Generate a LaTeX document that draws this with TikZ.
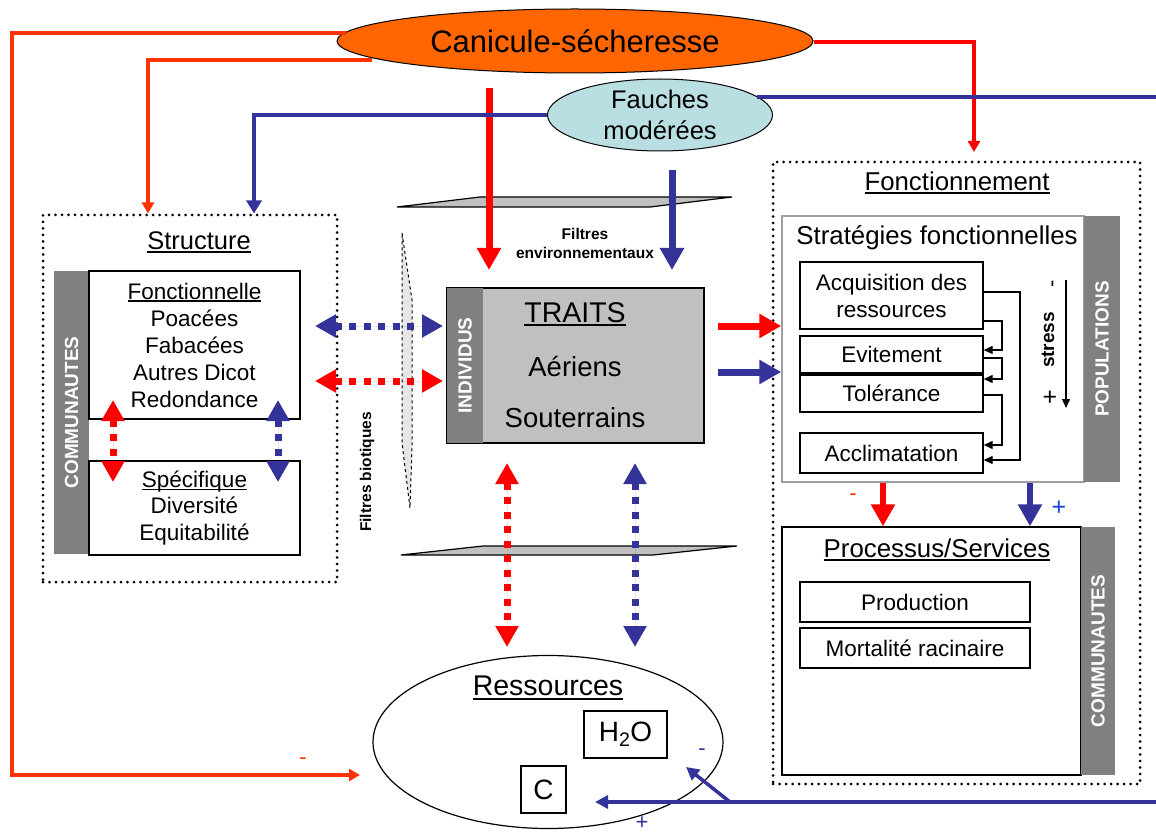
\documentclass[tikz,border=0pt]{standalone}
\usepackage{fontspec}
\setmainfont{Liberation Sans}
\usetikzlibrary{arrows.meta,shapes.geometric}
\definecolor{myred}{HTML}{FF0000}
\definecolor{ored}{HTML}{FF3300}
\definecolor{myblue}{HTML}{333399}
\definecolor{brblue}{HTML}{1A3FD6}
\definecolor{orangefill}{HTML}{FF6600}
\definecolor{cyanfill}{HTML}{B9DFE3}
\definecolor{bandgray}{HTML}{808080}
\definecolor{traitgray}{HTML}{C0C0C0}
\definecolor{lensgray}{HTML}{E6E6E6}
\newcommand{\fsz}[2]{\fontsize{#1}{#2}\selectfont}
\newcommand{\myul}[1]{\setbox0\hbox{#1}\rlap{\rule[-0.13em]{\wd0}{0.07em}}\box0}
\tikzset{
  dotbox/.style={draw, line width=3pt, dash pattern=on 0pt off 6.5pt, line cap=round, inner sep=0pt},
  band/.style={fill=bandgray, draw=none, text=white, font=\bfseries\fsz{19}{22}, rotate=90, inner sep=0pt},
  box/.style={draw, line width=1.4pt, inner sep=0pt, align=center},
  txt/.style={inner sep=0pt, align=center},
  thinred/.style={draw=ored, line width=3.5pt, -{Triangle[width=12pt,length=11pt]}},
  thinblue/.style={draw=myblue, line width=4pt, -{Triangle[width=15pt,length=13pt]}},
  thickred/.style={draw=myred, line width=7pt, -{Triangle[width=23pt,length=22pt]}},
  thickblue/.style={draw=myblue, line width=7pt, -{Triangle[width=23pt,length=22pt]}},
  dotarrow/.style={line width=7pt, dash pattern=on 7pt off 7.5pt, {Triangle[width=22pt,length=21pt]}-{Triangle[width=22pt,length=21pt]}},
  conn/.style={draw=black, line width=1.4pt, -{Triangle[width=8pt,length=9pt]}},
  plane/.style={draw=black, line width=1.2pt, fill=traitgray},
}
\begin{document}
\begin{tikzpicture}[x=1pt,y=-1pt]
\useasboundingbox[fill=white] (0,0) rectangle (1156,834);

% filter planes
\draw[plane] (397,207) -- (480,197) -- (732,197) -- (650,207) -- cycle;
\draw[plane] (401,555) -- (483,546) -- (737,546) -- (653,555) -- cycle;
% biotic filter lens
\draw[draw=black, line width=1pt, dashed, fill=lensgray] (402,233) -- (412,300) -- (412,447) -- (410,508) -- (402,443) -- cycle;

% top ellipses
\node[ellipse, draw=black, line width=1pt, fill=orangefill, minimum width=476pt, minimum height=64pt, inner sep=0pt, font=\fsz{31}{34}] (canicule) at (575,41) {Canicule-sécheresse};
\node[ellipse, draw=black, line width=1pt, fill=cyanfill, minimum width=225pt, minimum height=72pt, inner sep=0pt, align=center, font=\fsz{25.5}{31}] (fauches) at (660,115) {Fauches\\modérées};

% Structure
\node[dotbox, minimum width=294pt, minimum height=367pt] (structure) at (190,398.5) {};
\node[txt, font=\fsz{25.5}{30}] (structT) at (199,242) {\myul{Structure}};
\node[band, minimum width=283pt, minimum height=35pt] (commL) at (71.5,412.5) {COMMUNAUTES};
\node[box, minimum width=211pt, minimum height=148pt, font=\fsz{22.5}{27}] (fonctl) at (194.5,345) {\myul{Fonctionnelle}\\Poacées\\Fabacées\\Autres Dicot\\Redondance};
\node[box, minimum width=211pt, minimum height=94pt, font=\fsz{22.5}{26.5}] (specif) at (194.5,508) {\myul{Spécifique}\\Diversité\\Equitabilité};

% Traits
\node[draw=black, line width=1.2pt, fill=traitgray, minimum width=257pt, minimum height=155pt, inner sep=0pt] (traits) at (575.5,365.5) {};
\node[band, minimum width=155pt, minimum height=36pt] (indiv) at (465,365.5) {INDIVIDUS};
\node[txt, font=\fsz{28.5}{32}] (traitsT) at (575,314) {\myul{TRAITS}};
\node[txt, font=\fsz{27.5}{32}] (aer) at (575,367) {Aériens};
\node[txt, font=\fsz{27.5}{32}] (sout) at (575,418) {Souterrains};
\node[txt, font=\bfseries\fsz{15.5}{19}] (filtEnv) at (585,243) {Filtres\\environnementaux};
\node[txt, font=\bfseries\fsz{15.5}{19}, rotate=90] (filtBio) at (367,472) {Filtres biotiques};

% Fonctionnement
\node[dotbox, minimum width=367pt, minimum height=622pt] (fonct) at (956.5,473) {};
\node[txt, font=\fsz{25.8}{30}] (fonctT) at (957,183) {\myul{Fonctionnement}};
\node[draw=gray!75, line width=1.5pt, fill=white, minimum width=302pt, minimum height=266pt, inner sep=0pt] (strat) at (933,349) {};
\node[band, minimum width=266pt, minimum height=36pt] (popul) at (1102,349) {POPULATIONS};
\node[txt, font=\fsz{25.8}{30}] (stratT) at (937,238) {Stratégies fonctionnelles};
\node[box, minimum width=183pt, minimum height=67pt, font=\fsz{22.5}{27}] (acq) at (891.5,295.5) {Acquisition des\\ressources};
\node[box, minimum width=183pt, minimum height=37pt, font=\fsz{22.5}{26}] (evit) at (891.5,354.5) {Evitement};
\node[box, minimum width=183pt, minimum height=37pt, font=\fsz{22.5}{26}] (tol) at (891.5,393.5) {Tolérance};
\node[box, minimum width=183pt, minimum height=40pt, font=\fsz{22.5}{26}] (accl) at (891.5,453) {Acclimatation};
\coordinate (stressTop) at (1066,280);
\coordinate (stressBot) at (1066,408);
\draw[conn] (stressTop) -- (stressBot);
\node[txt, font=\bfseries\fsz{19}{22}, rotate=90] (stressL) at (1048,340) {stress};
\node[txt, font=\fsz{22}{26}, rotate=90] (stressM) at (1055,284) {-};
\node[txt, font=\fsz{25}{26}] (stressP) at (1050,398) {+};
\draw[conn] (acq.east |- 0,292) -| (1020,460) -- (accl.east |- 0,460);
\draw[conn] (acq.east |- 0,321) -| (1002,350) -- (evit.east |- 0,350);
\draw[conn] (evit.east |- 0,358) -| (1002,379) -- (tol.east |- 0,379);
\draw[conn] (tol.east |- 0,395) -| (1002,445) -- (accl.east |- 0,445);

% Processus
\node[draw=black, line width=1.4pt, fill=white, minimum width=299pt, minimum height=248pt, inner sep=0pt] (proc) at (931.5,651) {};
\node[band, minimum width=248pt, minimum height=34pt] (commR) at (1098,651) {COMMUNAUTES};
\node[txt, font=\fsz{25.8}{30}] (procT) at (937,550) {\myul{Processus/Services}};
\node[box, minimum width=230pt, minimum height=40pt, font=\fsz{22.5}{26}] (prod) at (915,602) {Production};
\node[box, minimum width=230pt, minimum height=40pt, font=\fsz{22.5}{26}] (mort) at (915,648) {Mortalité racinaire};

% Ressources
\node[ellipse, draw=black, line width=1.2pt, fill=white, minimum width=350pt, minimum height=173pt, inner sep=0pt] (ress) at (548,742) {};
\node[txt, font=\fsz{28.5}{32}] (ressT) at (548,688) {\myul{Ressources}};
\node[box, minimum width=83pt, minimum height=47pt, font=\fsz{28}{32}] (h2o) at (625.5,734.5) {H\textsubscript{2}O};
\node[box, minimum width=45pt, minimum height=47pt, font=\fsz{28}{32}] (cbox) at (543.5,789.5) {C};

% connectors from Canicule
\coordinate (c1) at (346,33);
\coordinate (c1a) at (12,33);
\coordinate (c1b) at (12,775);
\coordinate (c1end) at (360,775);
\draw[thinred] (c1) -- (c1a) -- (c1b) -- (c1end);
\node[txt, text=ored, font=\fsz{22}{26}] (m1) at (303,761) {-};
\coordinate (c2) at (372,60);
\coordinate (c2a) at (148,60);
\draw[thinred] (c2) -- (c2a) -- (structure.north -| c2a);
\coordinate (c3a) at (974,42);
\coordinate (c3end) at (974,152);
\draw[thinred, draw=myred] (canicule.east |- c3a) -- (c3a) -- (c3end);
\coordinate (rv1) at (489,88);
\coordinate (rv2) at (489,270);
\draw[thickred] (rv1) -- (rv2);

% connectors from Fauches
\coordinate (b1) at (254,115);
\draw[thinblue] (fauches.west) -- (b1) -- (structure.north -| b1);
\coordinate (b2) at (757,97);
\coordinate (b2end) at (1156,97);
\draw[draw=myblue, line width=4pt] (b2) -- (b2end);
\coordinate (bv1) at (672,170);
\coordinate (bv2) at (672,270);
\draw[thickblue] (bv1) -- (bv2);

% traits to strategies
\coordinate (tr1) at (718,326);
\coordinate (tr2) at (718,372);
\draw[thickred] (tr1) -- (strat.west |- tr1);
\draw[thickblue] (tr2) -- (strat.west |- tr2);

% dotted double arrows
\coordinate (hb1) at (315,326); \coordinate (hb2) at (443,326);
\coordinate (hr1) at (315,381); \coordinate (hr2) at (443,381);
\draw[dotarrow, draw=myblue, fill=myblue] (hb1) -- (hb2);
\draw[dotarrow, draw=myred, fill=myred] (hr1) -- (hr2);
\draw[dotarrow, draw=myred, fill=myred] (113,400) -- (113,482);
\draw[dotarrow, draw=myblue, fill=myblue] (278,400) -- (278,482);
\coordinate (vr1) at (507,463); \coordinate (vr2) at (507,647);
\coordinate (vb1) at (635,463); \coordinate (vb2) at (635,647);
\draw[dotarrow, draw=myred, fill=myred] (vr1) -- (vr2);
\draw[dotarrow, draw=myblue, fill=myblue] (vb1) -- (vb2);

% strategies to processus
\draw[thickred, line width=6.5pt] (strat.south -| 883,0) -- (proc.north -| 883,0);
\draw[thickblue, line width=6.5pt] (strat.south -| 1030,0) -- (proc.north -| 1030,0);
\node[txt, text=ored, font=\fsz{22}{26}] (m2) at (853,497) {-};
\node[txt, text=brblue, font=\fsz{25}{26}] (p2) at (1059,508) {+};

% bottom blue arrows
\coordinate (bb0) at (1156,802);
\coordinate (bb1) at (730,802);
\coordinate (bbend) at (595,802);
\coordinate (bbh) at (686,767);
\draw[draw=myblue, line width=3.5pt, -{Triangle[width=13pt,length=13pt]}] (bb0) -- (bbend);
\draw[draw=myblue, line width=3.5pt, -{Triangle[width=13pt,length=13pt]}] (bb1) -- (bbh);
\node[txt, text=myblue, font=\fsz{22}{26}] (m3) at (702,752) {-};
\node[txt, text=myblue, font=\fsz{22}{26}] (p3) at (642,823) {+};
\end{tikzpicture}
\end{document}
